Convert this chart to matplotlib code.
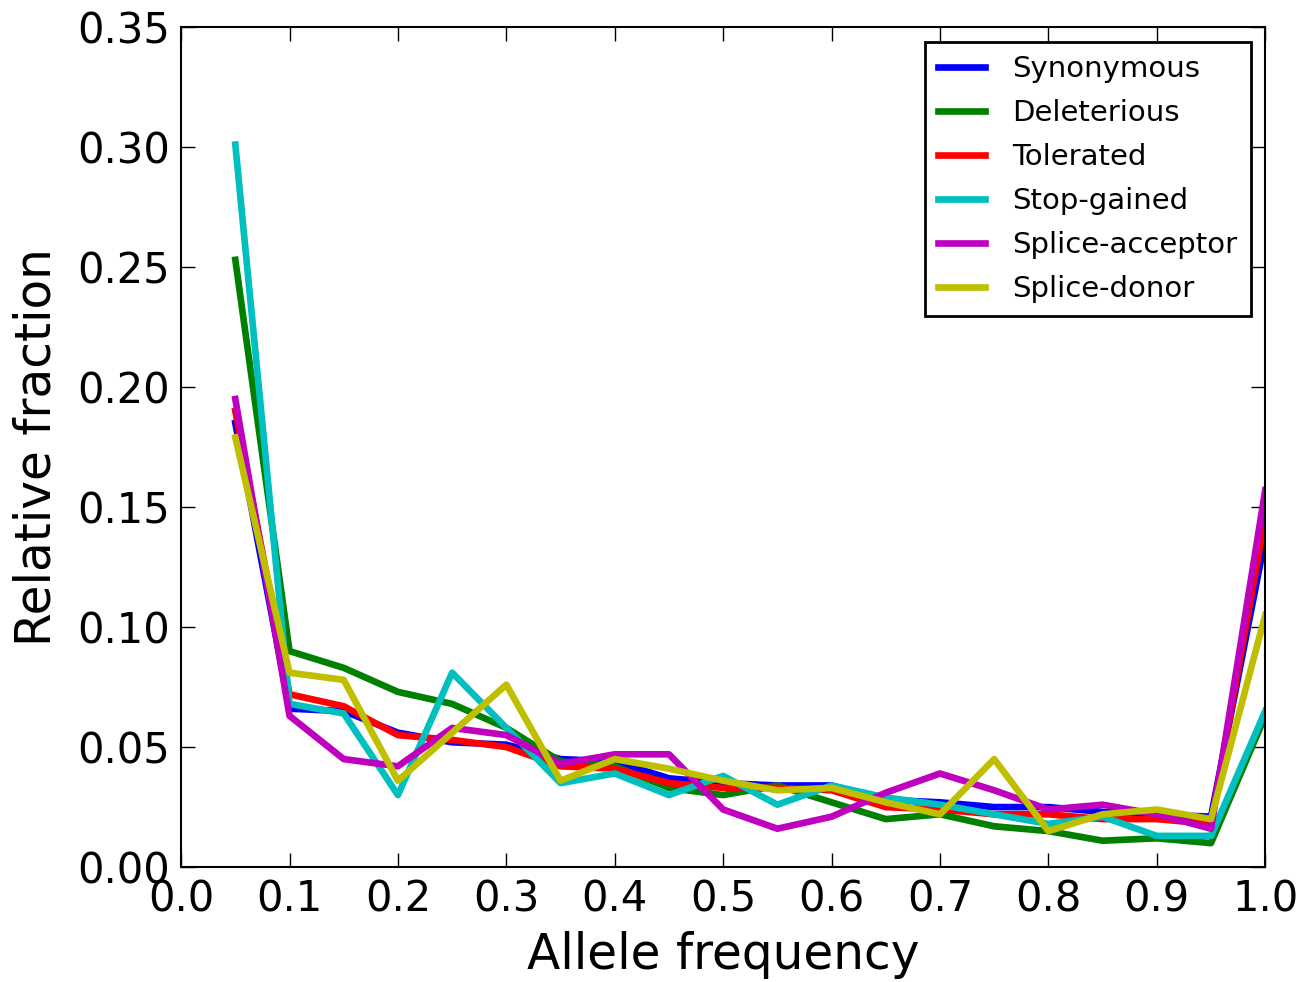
import numpy as np
import matplotlib
matplotlib.use("Agg")
import matplotlib.pyplot as plt

# allele frequency bins (bin upper edges)
freq = np.round(np.arange(1, 21) * 0.05, 2)

synonymous = [0.185, 0.066, 0.065, 0.056, 0.052, 0.051, 0.045, 0.044, 0.037, 0.035,
              0.034, 0.034, 0.028, 0.027, 0.025, 0.025, 0.023, 0.022, 0.021, 0.137]
deleterious = [0.253, 0.090, 0.083, 0.073, 0.068, 0.058, 0.044, 0.042, 0.033, 0.030,
               0.034, 0.027, 0.020, 0.022, 0.017, 0.015, 0.011, 0.012, 0.010, 0.063]
tolerated = [0.190, 0.072, 0.067, 0.055, 0.053, 0.050, 0.042, 0.041, 0.035, 0.033,
             0.033, 0.032, 0.025, 0.024, 0.022, 0.022, 0.020, 0.020, 0.018, 0.146]
stop_gained = [0.301, 0.068, 0.064, 0.030, 0.081, 0.058, 0.035, 0.039, 0.030, 0.038,
               0.026, 0.034, 0.029, 0.026, 0.022, 0.018, 0.021, 0.013, 0.013, 0.065]
splice_acceptor = [0.195, 0.063, 0.045, 0.042, 0.058, 0.055, 0.043, 0.047, 0.047, 0.024,
                   0.016, 0.021, 0.031, 0.039, 0.032, 0.024, 0.026, 0.022, 0.016, 0.157]
splice_donor = [0.179, 0.081, 0.078, 0.036, 0.056, 0.076, 0.036, 0.045, 0.041, 0.036,
                0.032, 0.033, 0.027, 0.022, 0.045, 0.015, 0.022, 0.024, 0.020, 0.105]

series = [
    ("Synonymous", synonymous, "b"),
    ("Deleterious", deleterious, "g"),
    ("Tolerated", tolerated, "r"),
    ("Stop-gained", stop_gained, "c"),
    ("Splice-acceptor", splice_acceptor, "m"),
    ("Splice-donor", splice_donor, "y"),
]

plt.rcParams["font.family"] = "DejaVu Sans"

fig = plt.figure(figsize=(13.03, 9.82), dpi=100)
ax = fig.add_axes([0.139, 0.117, 0.832, 0.8555])

for label, vals, col in series:
    ax.plot(freq, vals, color=col, lw=4.8, label=label)

ax.set_xlim(0, 1.0)
ax.set_ylim(0, 0.35)
ax.set_xticks(np.arange(0, 1.01, 0.1))
ax.set_yticks(np.arange(0, 0.351, 0.05))
ax.set_xticklabels([f"{v:.1f}" for v in np.arange(0, 1.01, 0.1)])
ax.set_yticklabels([f"{v:.2f}" for v in np.arange(0, 0.351, 0.05)])
ax.tick_params(direction="in", length=10, width=1, labelsize=30, pad=8,
               top=True, right=True)
for sp in ax.spines.values():
    sp.set_linewidth(1.5)

ax.set_xlabel("Allele frequency", fontsize=35, labelpad=8)
ax.set_ylabel("Relative fraction", fontsize=35, labelpad=12)

leg = ax.legend(loc="upper right", fontsize=21, handlelength=1.6,
                handletextpad=0.95, labelspacing=0.55, borderpad=0.45,
                borderaxespad=0.5, fancybox=False, framealpha=1)
leg.get_frame().set_edgecolor("black")
leg.get_frame().set_linewidth(2)

fig.savefig("out.png", dpi=100, facecolor="white")
